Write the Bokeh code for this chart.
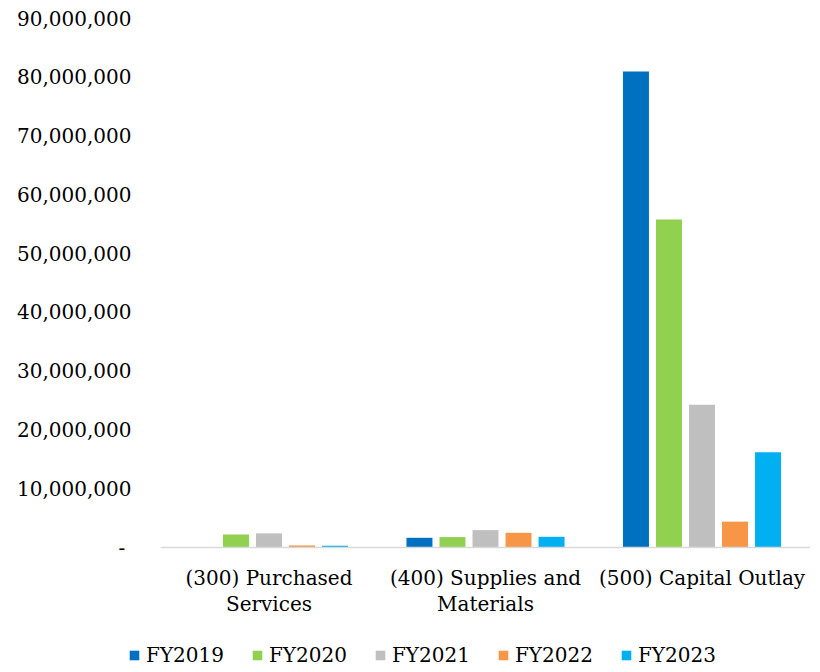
from bokeh.plotting import figure
from bokeh.core.properties import value
from bokeh.models import (ColumnDataSource, Legend, LegendItem, NumeralTickFormatter,
                          FixedTicker, LabelSet, Range1d)
from bokeh.transform import dodge
from bokeh.embed import file_html
from bokeh.resources import INLINE

# Expenditure categories (object codes)
categories = ["(300) Purchased\nServices", "(400) Supplies and\nMaterials", "(500) Capital Outlay"]

# Fiscal-year series, in dollars
years = ["FY2019", "FY2020", "FY2021", "FY2022", "FY2023"]
fy2019 = [100000, 1650000, 81000000]
fy2020 = [2200000, 1770000, 55800000]
fy2021 = [2400000, 2960000, 24300000]
fy2022 = [350000, 2500000, 4400000]
fy2023 = [300000, 1820000, 16200000]

colors = ["#0070C0", "#92D050", "#BFBFBF", "#F79646", "#00B0F0"]
y_ticks = [0, 10000000, 20000000, 30000000, 40000000, 50000000, 60000000, 70000000, 80000000, 90000000]
y_top = 90000000

FONT = "DejaVu Serif"

# Each category occupies one unit on the x scale, centred at i + 0.5
n = len(categories)
pos = [i + 0.5 for i in range(n)]

source = ColumnDataSource(data=dict(
    pos=pos,
    FY2019=fy2019, FY2020=fy2020, FY2021=fy2021, FY2022=fy2022, FY2023=fy2023,
))

# Frame geometry (pixels): the plot area runs to the bottom edge so the
# category names and the legend can live inside it, below the zero line.
W, H = 820, 672
LEFT, RIGHT, TOP, ZERO_PX = 120, 10, 18, 547
CAT_PX = 216.5                      # width of one category slot
below_zero = y_top * (H - ZERO_PX) / (ZERO_PX - TOP)
x_start = 0.5 - (268.5 - LEFT) / CAT_PX
x_end = x_start + (W - LEFT - RIGHT) / CAT_PX

p = figure(
    x_range=Range1d(x_start, x_end), y_range=Range1d(-below_zero, y_top),
    width=W, height=H,
    output_backend="svg", toolbar_location=None,
    min_border_left=LEFT, min_border_right=RIGHT, min_border_top=TOP, min_border_bottom=0,
    outline_line_color=None, background_fill_color="white", border_fill_color="white",
)

offsets = [-0.305, -0.1525, 0.0, 0.1525, 0.305]
items = []
for yr, off, col in zip(years, offsets, colors):
    r = p.vbar(x=dodge("pos", off), top=yr, width=0.12,
               source=source, fill_color=col, line_color=None)
    items.append(LegendItem(label=yr, renderers=[r]))

p.xgrid.visible = False
p.ygrid.visible = False
p.xaxis.visible = False

# Category baseline spanning all category slots
p.line(x=[0, n], y=[0, 0], line_color="#D9D9D9", line_width=1.5)

# Category names, each line centred under its group
name_source = ColumnDataSource(data=dict(
    pos=pos,
    zero=[0] * n,
    line1=[c.split("\n")[0] for c in categories],
    line2=[c.split("\n")[1] if "\n" in c else "" for c in categories],
))
for col, off in (("line1", -37), ("line2", -63)):
    p.add_layout(LabelSet(
        x="pos", y="zero", text=col, source=name_source,
        y_offset=off, text_align="center", text_baseline="alphabetic",
        text_font=value(FONT), text_font_size="20px", text_color="black",
    ))

# Value axis with accounting-style labels
ya = p.yaxis[0]
ya.ticker = FixedTicker(ticks=y_ticks)
ya.formatter = NumeralTickFormatter(format="0,0")
ya.major_label_overrides = {0: "-\u00a0"}
ya.axis_line_color = None
ya.major_tick_line_color = None
ya.minor_tick_line_color = None
ya.major_tick_out = 0
ya.major_tick_in = 0
ya.major_label_text_font = FONT
ya.major_label_text_font_size = "20px"
ya.major_label_text_color = "black"
ya.major_label_standoff = -11

legend = Legend(
    items=items, orientation="horizontal", location=(8, 5),
    label_text_font=FONT, label_text_font_size="20px", label_text_color="black",
    glyph_width=12, glyph_height=12, label_standoff=6, spacing=27, label_height=20,
    border_line_color=None, background_fill_alpha=0, padding=0, margin=0,
)
p.add_layout(legend, "center")

open("out.html", "w").write(file_html(p, INLINE))
